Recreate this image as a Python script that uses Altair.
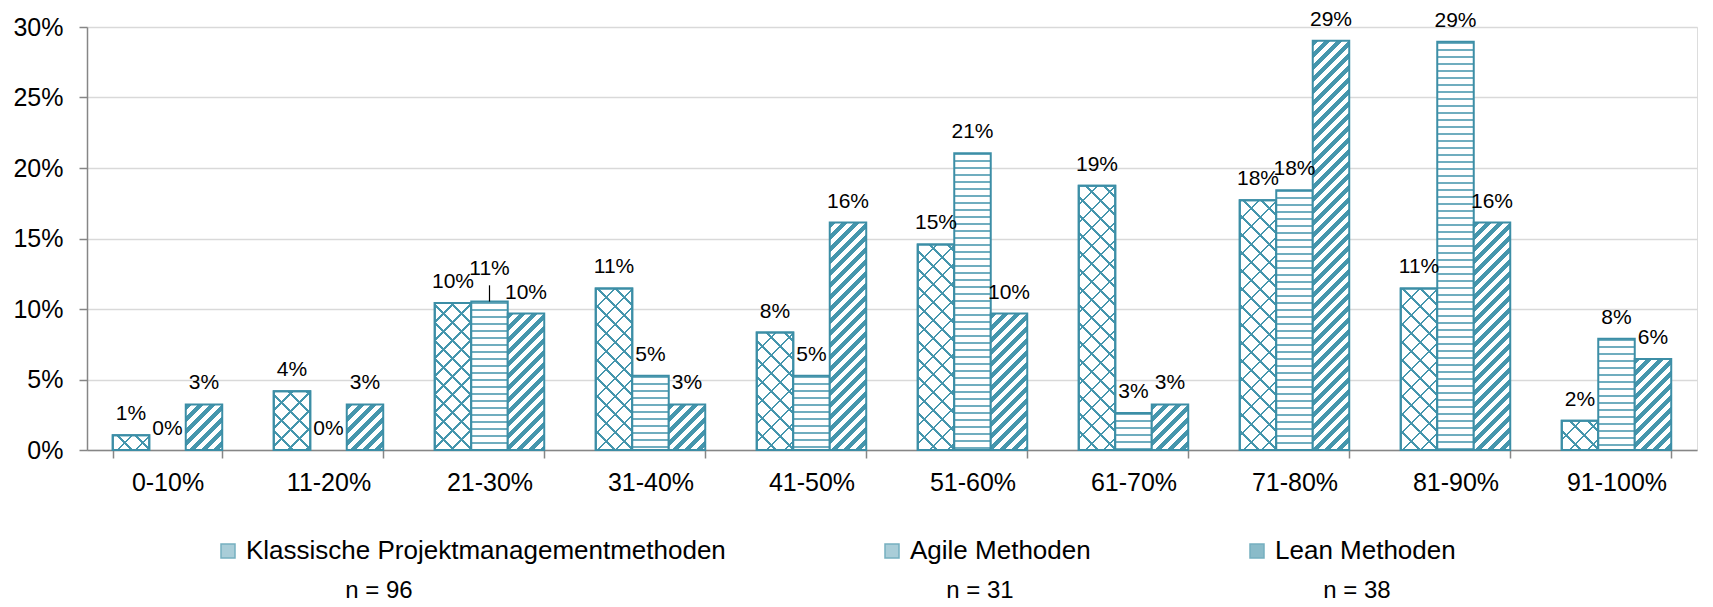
import altair as alt
import pandas as pd

# ---------------- data ----------------
categories = ["0-10%", "11-20%", "21-30%", "31-40%", "41-50%",
              "51-60%", "61-70%", "71-80%", "81-90%", "91-100%"]
series = ["Klassische Projektmanagementmethoden", "Agile Methoden", "Lean Methoden"]
klassisch = [1.04, 4.17, 10.42, 11.46, 8.33, 14.58, 18.75, 17.71, 11.46, 2.08]
agile = [0.0, 0.0, 10.53, 5.26, 5.26, 21.05, 2.63, 18.42, 28.95, 7.89]
lean = [3.23, 3.23, 9.68, 3.23, 16.13, 9.68, 3.23, 29.03, 16.13, 6.45]
y_ticks = [0, 5, 10, 15, 20, 25, 30]
n_labels = ["n = 96", "n = 31", "n = 38"]

rows = []
for s, vals in zip(series, [klassisch, agile, lean]):
    for c, v in zip(categories, vals):
        rows.append({"category": c, "series": s, "value": v})
df = pd.DataFrame(rows)
ndf = pd.DataFrame({"t": n_labels})

# ---------------- style ----------------
FONT = "Liberation Sans"
TEAL = "#3c8ea6"
PAT = "#4596ad"
GRAY = "#868686"
GRID = "#d9d9d9"
PLOT_W, PLOT_H = 1610, 423
K = PLOT_H / 30.0            # pixels per percent
BAR_W = PLOT_W / 10 * 0.68 / 3  # width of one bar in pixels


def stops(period, on, L, on_color, off_color):
    out = []
    k = 0
    while k * period < L:
        a = k * period / L
        b = min((k * period + on) / L, 1.0)
        c = min((k + 1) * period / L, 1.0)
        out += [(a, on_color), (b, on_color), (b, off_color), (c, off_color)]
        k += 1
    return "[" + ",".join("{offset:%.5f,color:'%s'}" % (o, col) for o, col in out) + "]"


def diag(direction, period, on, on_color, off_color, L=470.0):
    H = "(datum.value*%.5f)" % K
    D = "(%.4f+%s*%s)" % (BAR_W * BAR_W, H, H)
    st = stops(period, on, L, on_color, off_color)
    if direction == "/":
        return "{gradient:'linear',x1:0,y1:0,x2:%.4f/%s,y2:%s*%.4f/%s,stops:%s}" % (
            BAR_W * L, D, H, L, D, st)
    return "{gradient:'linear',x1:0,y1:1,x2:%.4f/%s,y2:1-%s*%.4f/%s,stops:%s}" % (
        BAR_W * L, D, H, L, D, st)


def horiz(period, on, on_color, off_color, L=440.0):
    H = "(datum.value*%.5f)" % K
    st = stops(period, on, L, on_color, off_color)
    return "{gradient:'linear',x1:0,y1:0,x2:0.000001,y2:%.4f/%s,stops:%s}" % (L, H, st)


x_enc = alt.X("category:N", sort=categories,
              scale=alt.Scale(paddingInner=0.32, paddingOuter=0.16),
              axis=alt.Axis(title=None, labelAngle=0, tickBand="extent", grid=False,
                            labelFontSize=25, labelColor="#000000", labelFont=FONT,
                            labelPadding=12, tickSize=8, tickColor=GRAY, tickWidth=1.5,
                            domainColor=GRAY, domainWidth=1.5))
xo_enc = alt.XOffset("series:N", sort=series, scale=alt.Scale(domain=series))
y_enc = alt.Y("value:Q", scale=alt.Scale(domain=[0, 30], nice=False),
              axis=alt.Axis(title=None, values=y_ticks, labelExpr="datum.value + '%'",
                            labelFontSize=25, labelColor="#000000", labelFont=FONT,
                            labelPadding=16, tickSize=8, tickColor=GRAY, tickWidth=1.5,
                            domainColor=GRAY, domainWidth=1.5, gridColor=GRID,
                            gridWidth=1.5))

base = alt.Chart(df)


def bars(name, fill_expr):
    return base.transform_filter(
        f"datum.series == '{name}' && datum.value > 0"
    ).mark_bar(fill={"expr": fill_expr}, stroke=TEAL, strokeWidth=2).encode(
        x=x_enc, xOffset=xo_enc, y=y_enc)


kl_a = bars(series[0], diag("/", 18, 2.4, PAT, "#ffffff"))
kl_b = bars(series[0], diag("\\", 18, 2.4, PAT, "rgba(255,255,255,0)"))
ag = bars(series[1], horiz(7, 2.2, "#6fadbf", "#ffffff"))
le = bars(series[2], diag("/", 12, 6, PAT, "#ffffff"))

special = "datum.series == 'Agile Methoden' && datum.category == '21-30%'"
labels = base.transform_filter("!(" + special + ")").transform_calculate(
    lab="round(datum.value) + '%'"
).mark_text(dy=-15, baseline="alphabetic", fontSize=21, font=FONT, color="#000000").encode(
    x=x_enc, xOffset=xo_enc, y=y_enc, text="lab:N")

label_sp = base.transform_filter(special).transform_calculate(
    lab="round(datum.value) + '%'"
).mark_text(dy=-27, baseline="alphabetic", fontSize=21, font=FONT, color="#000000").encode(
    x=x_enc, xOffset=xo_enc, y=y_enc, text="lab:N")

leader = base.transform_filter(special).transform_calculate(
    top="datum.value + 1.15"
).mark_rule(color="#000000", strokeWidth=1.2).encode(
    x=x_enc, xOffset=xo_enc, y=y_enc, y2="top:Q")

legend_layer = base.transform_filter("false").mark_square(
    stroke=TEAL, strokeWidth=1.5).encode(
    fill=alt.Fill("series:N", sort=series,
                  scale=alt.Scale(domain=series, range=["#86b9c8", "#86b9c8", "#5a9fb3"]),
                  legend=alt.Legend(title=None, orient="none", direction="horizontal",
                                    legendX=128, legendY=511, columns=3,
                                    columnPadding=153, labelFontSize=26, labelFont=FONT,
                                    labelColor="#000000", labelLimit=2000,
                                    symbolType="square", symbolSize=196,
                                    symbolStrokeColor=TEAL, symbolStrokeWidth=1.5,
                                    labelOffset=5)))

n_pos = [292, 893, 1270]
n_layers = [
    alt.Chart(ndf).transform_filter(f"datum.t == '{t}'").mark_text(
        fontSize=24, font=FONT, color="#000000", baseline="middle", align="center"
    ).encode(x=alt.value(px), y=alt.value(564), text="t:N")
    for t, px in zip(n_labels, n_pos)
]

chart = alt.layer(kl_a, kl_b, ag, le, labels, label_sp, leader, legend_layer, *n_layers).properties(
    width=PLOT_W, height=PLOT_H,
    padding={"left": 4, "top": 0, "right": 5, "bottom": 0},
).configure_view(stroke=None).configure(background="#ffffff")

chart.save("out.html", embed_options={"renderer": "svg", "actions": False})
